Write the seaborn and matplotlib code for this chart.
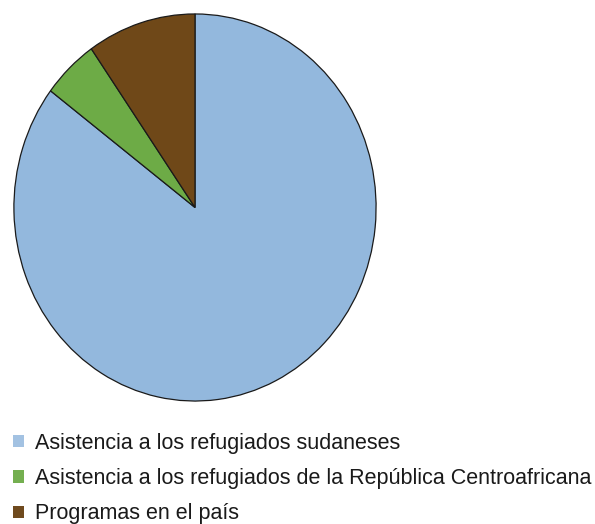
import matplotlib
matplotlib.use("Agg")
import matplotlib.pyplot as plt
import seaborn as sns
from matplotlib.patches import Patch

sns.set_theme(style="white")
plt.rcParams['font.family'] = ['Liberation Sans', 'DejaVu Sans']

categories = [
    "Asistencia a los refugiados sudaneses",
    "Asistencia a los refugiados de la República Centroafricana",
    "Programas en el país",
]
values = [85.3, 5.0, 9.7]
colors = ["#93B8DD", "#6DAB46", "#6F4818"]
legend_colors = ["#A3C2E2", "#74AF50", "#6F4A1E"]

W, H = 595, 524
fig = plt.figure(figsize=(W / 100, H / 100), dpi=100)
fig.patch.set_facecolor("white")

# pie area (slightly taller than wide, as in the reference)
left, right, top, bottom = 13, 377, 13, 402
ax = fig.add_axes([left / W, 1 - bottom / H, (right - left) / W, (bottom - top) / H])
wedges, _ = ax.pie(values, colors=colors, startangle=90, counterclock=False,
                   wedgeprops=dict(edgecolor="#1a1a1a", linewidth=0.9),
                   radius=1.0)
ax.set_aspect("auto")
ax.set_xlim(-1.005, 1.005)
ax.set_ylim(-1.005, 1.005)
ax.axis("off")

handles = [Patch(facecolor=c, edgecolor="none") for c in legend_colors]
leg = fig.legend(handles, categories, loc="upper left",
                 bbox_to_anchor=(13 / W, 1 - 433 / H),
                 frameon=False, fontsize=15.5, handlelength=0.5, handleheight=0.5,
                 handletextpad=0.5, labelspacing=0.66, borderaxespad=0, borderpad=0)
for t in leg.get_texts():
    t.set_color("#1a1a1a")

fig.savefig("out.png", dpi=100, facecolor="white")
